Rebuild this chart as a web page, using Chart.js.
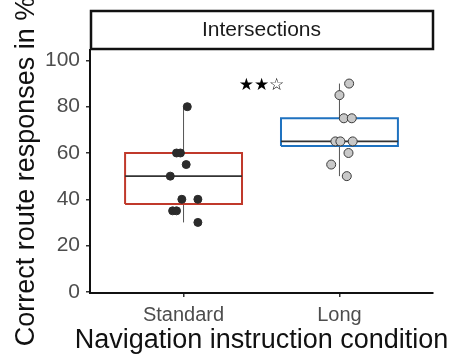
<!DOCTYPE html>
<html>
<head>
<meta charset="utf-8">
<script src="https://cdn.jsdelivr.net/npm/chart.js@4.4.1/dist/chart.umd.min.js"></script>
<style>
  html, body { margin: 0; padding: 0; background: #fff; }
  #wrap { width: 451px; height: 360px; }
</style>
</head>
<body>
<div id="wrap"><canvas id="myChart" width="451" height="360"></canvas></div>
<script>
// categories / tick labels
const categories = ['Standard', 'Long'];
const yTicks = [0, 20, 40, 60, 80, 100];
const panelLabel = 'Intersections';
const significance = '★★☆';
const xTitle = 'Navigation instruction condition';
const yTitle = 'Correct route responses in %';

// individual responses (% correct) and their horizontal jitter
const standardScores = [80, 60, 60, 55, 50, 40, 40, 35, 35, 30];
const standardJitter = [0.024, -0.045, -0.02, 0.017, -0.085, -0.011, 0.092, -0.07, -0.045, 0.092];
const longScores = [90, 85, 75, 75, 65, 65, 65, 60, 55, 50];
const longJitter = [0.062, 0, 0.028, 0.079, -0.026, 0.006, 0.085, 0.058, -0.053, 0.047];

// box stats: lower whisker, Q1, median, Q3, upper whisker
const standardBox = [30, 38, 50, 60, 80];
const longBox = [50, 63, 65, 75, 90];

const boxHalf = 0.375;
const FONT = '"Liberation Sans", Arial, sans-serif';

function points(pos, scores, jitter) {
    return scores.map((v, i) => ({ x: pos + jitter[i], y: v }));
}
function boxOutline(pos, s) {
    return [
        { x: pos - boxHalf, y: s[1] }, { x: pos + boxHalf, y: s[1] },
        { x: pos + boxHalf, y: s[3] }, { x: pos - boxHalf, y: s[3] },
        { x: pos - boxHalf, y: s[1] }
    ];
}
function medianLine(pos, s) {
    return [{ x: pos - boxHalf, y: s[2] }, { x: pos + boxHalf, y: s[2] }];
}
function whiskers(pos, s) {
    return [{ x: pos, y: s[0] }, { x: pos, y: s[1] }, { x: pos, y: null },
            { x: pos, y: s[3] }, { x: pos, y: s[4] }];
}

const lineDefaults = { type: 'line', pointRadius: 0, fill: false, tension: 0, spanGaps: false };

// facet strip, stars and the axis titles (drawn here so they are not squeezed)
const stripPlugin = {
    id: 'strip',
    afterDraw(chart) {
        const ctx = chart.ctx, a = chart.chartArea;
        ctx.save();
        ctx.strokeStyle = '#111';
        ctx.lineWidth = 2.5;
        ctx.strokeRect(a.left + 1, 11, a.right - a.left - 1, a.top - 12);
        ctx.fillStyle = '#1a1a1a';
        ctx.font = '21px ' + FONT;
        ctx.textAlign = 'center';
        ctx.textBaseline = 'middle';
        ctx.fillText(panelLabel, (a.left + a.right) / 2, 30);

        const x = chart.scales.x.getPixelForValue(1.5);
        const y = chart.scales.y.getPixelForValue(89);
        ctx.fillStyle = '#000';
        ctx.font = '17px "DejaVu Sans", sans-serif';
        ctx.fillText(significance, x, y);

        ctx.fillStyle = '#111';
        ctx.font = '27px ' + FONT;
        ctx.textBaseline = 'alphabetic';
        ctx.fillText(xTitle, (a.left + a.right) / 2, 348);
        ctx.translate(34, (a.top + a.bottom) / 2);
        ctx.rotate(-Math.PI / 2);
        ctx.fillText(yTitle, 0, 0);
        ctx.restore();
    }
};

const ctx = document.getElementById('myChart').getContext('2d');
const chart = new Chart(ctx, {
    type: 'scatter',
    data: {
        datasets: [
            { type: 'scatter', data: points(1, standardScores, standardJitter),
              backgroundColor: '#2b2b2b', borderColor: '#2b2b2b', borderWidth: 1, pointRadius: 4 },
            { type: 'scatter', data: points(2, longScores, longJitter),
              backgroundColor: '#c8c8c8', borderColor: '#3a3a3a', borderWidth: 1, pointRadius: 4.5 },
            { ...lineDefaults, data: medianLine(1, standardBox), borderColor: '#333', borderWidth: 1.6 },
            { ...lineDefaults, data: medianLine(2, longBox), borderColor: '#333', borderWidth: 1.6 },
            { ...lineDefaults, data: boxOutline(1, standardBox), borderColor: '#c0392b', borderWidth: 2 },
            { ...lineDefaults, data: boxOutline(2, longBox), borderColor: '#1f72c0', borderWidth: 2 },
            { ...lineDefaults, data: whiskers(1, standardBox), borderColor: '#555', borderWidth: 1 },
            { ...lineDefaults, data: whiskers(2, longBox), borderColor: '#555', borderWidth: 1 }
        ]
    },
    options: {
        responsive: false,
        animation: false,
        layout: { padding: { top: 50, right: 18, left: 0, bottom: 0 } },
        plugins: { legend: { display: false }, tooltip: { enabled: false } },
        scales: {
            x: {
                type: 'linear',
                min: 0.4, max: 2.6,
                afterBuildTicks: s => { s.ticks = categories.map((c, i) => ({ value: i + 1 })); },
                afterFit: s => { s.height = 67; },
                ticks: {
                    callback: v => categories[Math.round(v) - 1],
                    color: '#4d4d4d',
                    font: { size: 20, family: FONT },
                    padding: 6, maxRotation: 0
                },
                grid: { drawOnChartArea: false, drawTicks: true, tickLength: 4, color: '#333', lineWidth: 1.5 },
                border: { display: true, color: '#111', width: 2 }
            },
            y: {
                min: -0.5, max: 104.5,
                afterBuildTicks: s => { s.ticks = yTicks.map(v => ({ value: v })); },
                afterFit: s => { s.width = 90; },
                ticks: {
                    color: '#4d4d4d',
                    font: { size: 21, family: FONT },
                    padding: 6
                },
                grid: { drawOnChartArea: false, drawTicks: true, tickLength: 4, color: '#333', lineWidth: 1.5 },
                border: { display: true, color: '#111', width: 2 }
            }
        }
    },
    plugins: [stripPlugin]
});
</script>
</body>
</html>
